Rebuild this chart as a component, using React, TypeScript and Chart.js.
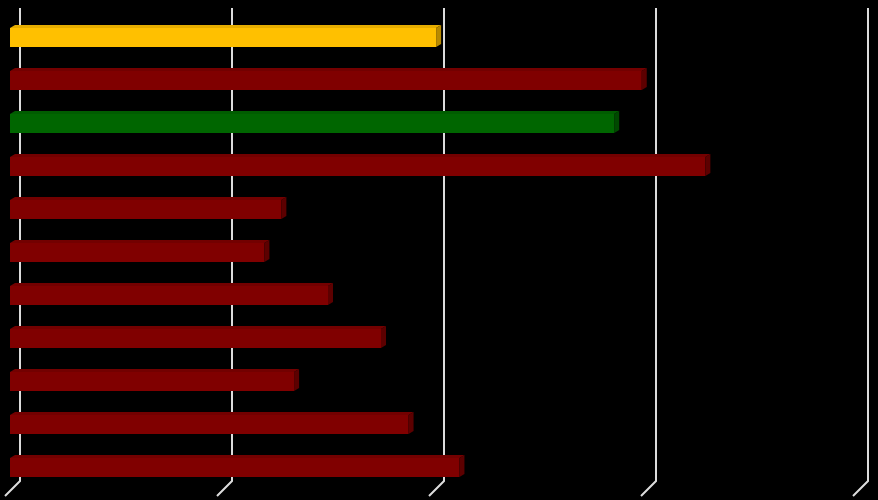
import { useEffect, useRef } from "react"
import { Chart, registerables } from "chart.js"

Chart.register(...registerables)

// bars from top to bottom, no labels shown in the picture
const categories = ["1", "2", "3", "4", "5", "6", "7", "8", "9", "10", "11"]
const values = [2.01, 2.98, 2.85, 3.28, 1.28, 1.2, 1.5, 1.75, 1.34, 1.88, 2.12]
const barColors = ["#FFC000", "#800000", "#006600", "#800000", "#800000", "#800000", "#800000", "#800000", "#800000", "#800000", "#800000"]
const gridTicks = [0, 1, 2, 3, 4]

const shade = (hex: string, f: number) => {
  const n = parseInt(hex.slice(1), 16)
  const r = Math.round(((n >> 16) & 255) * f)
  const g = Math.round(((n >> 8) & 255) * f)
  const b = Math.round((n & 255) * f)
  return `rgb(${r}, ${g}, ${b})`
}

// back wall grid lines with a slanted floor edge
const gridPlugin = {
  id: "grid3d",
  beforeDatasetsDraw(chart: any) {
    const { ctx, chartArea } = chart
    const xs = chart.scales.x
    ctx.save()
    ctx.strokeStyle = "#dcdcdc"
    ctx.lineWidth = 2
    gridTicks.forEach((v) => {
      const px = xs.getPixelForValue(v)
      ctx.beginPath()
      ctx.moveTo(px + 10, chartArea.top - 8)
      ctx.lineTo(px + 10, chartArea.bottom - 8)
      ctx.lineTo(px - 5, chartArea.bottom + 7)
      ctx.stroke()
    })
    ctx.restore()
  },
}

// top and side faces on each bar
const barFacesPlugin = {
  id: "bar3d",
  afterDatasetsDraw(chart: any) {
    const { ctx } = chart
    const meta = chart.getDatasetMeta(0)
    const dx = 5
    const dy = 3
    ctx.save()
    meta.data.forEach((bar: any, i: number) => {
      const { x, y, base, height } = bar.getProps(["x", "y", "base", "height"], true)
      const top = y - height / 2
      const bottom = y + height / 2
      const color = barColors[i]
      ctx.fillStyle = shade(color, 0.9)
      ctx.beginPath()
      ctx.moveTo(base, top)
      ctx.lineTo(base + dx, top - dy)
      ctx.lineTo(x + dx, top - dy)
      ctx.lineTo(x, top)
      ctx.closePath()
      ctx.fill()
      ctx.fillStyle = shade(color, 0.72)
      ctx.beginPath()
      ctx.moveTo(x, top)
      ctx.lineTo(x + dx, top - dy)
      ctx.lineTo(x + dx, bottom - dy)
      ctx.lineTo(x, bottom)
      ctx.closePath()
      ctx.fill()
    })
    ctx.restore()
  },
}

export default function App() {
  const canvasRef = useRef<HTMLCanvasElement | null>(null)

  useEffect(() => {
    document.body.style.margin = "0"
    document.body.style.background = "#000000"
    if (!canvasRef.current) return

    const chart = new Chart(canvasRef.current, {
      type: "bar",
      data: {
        labels: categories,
        datasets: [
          {
            data: values,
            backgroundColor: barColors,
            borderWidth: 0,
            barPercentage: 0.44,
            categoryPercentage: 1,
          },
        ],
      },
      options: {
        indexAxis: "y",
        responsive: false,
        animation: false,
        layout: { padding: { left: 10, right: 20, top: 16, bottom: 11 } },
        scales: {
          x: { display: false, min: 0, max: 4 },
          y: { display: false },
        },
        plugins: {
          legend: { display: false },
          tooltip: { enabled: false },
        },
      },
      plugins: [gridPlugin, barFacesPlugin],
    })

    return () => chart.destroy()
  }, [])

  return (
    <div style={{ width: 878, height: 500, background: "#000000" }}>
      <canvas ref={canvasRef} width={878} height={500}></canvas>
    </div>
  )
}
